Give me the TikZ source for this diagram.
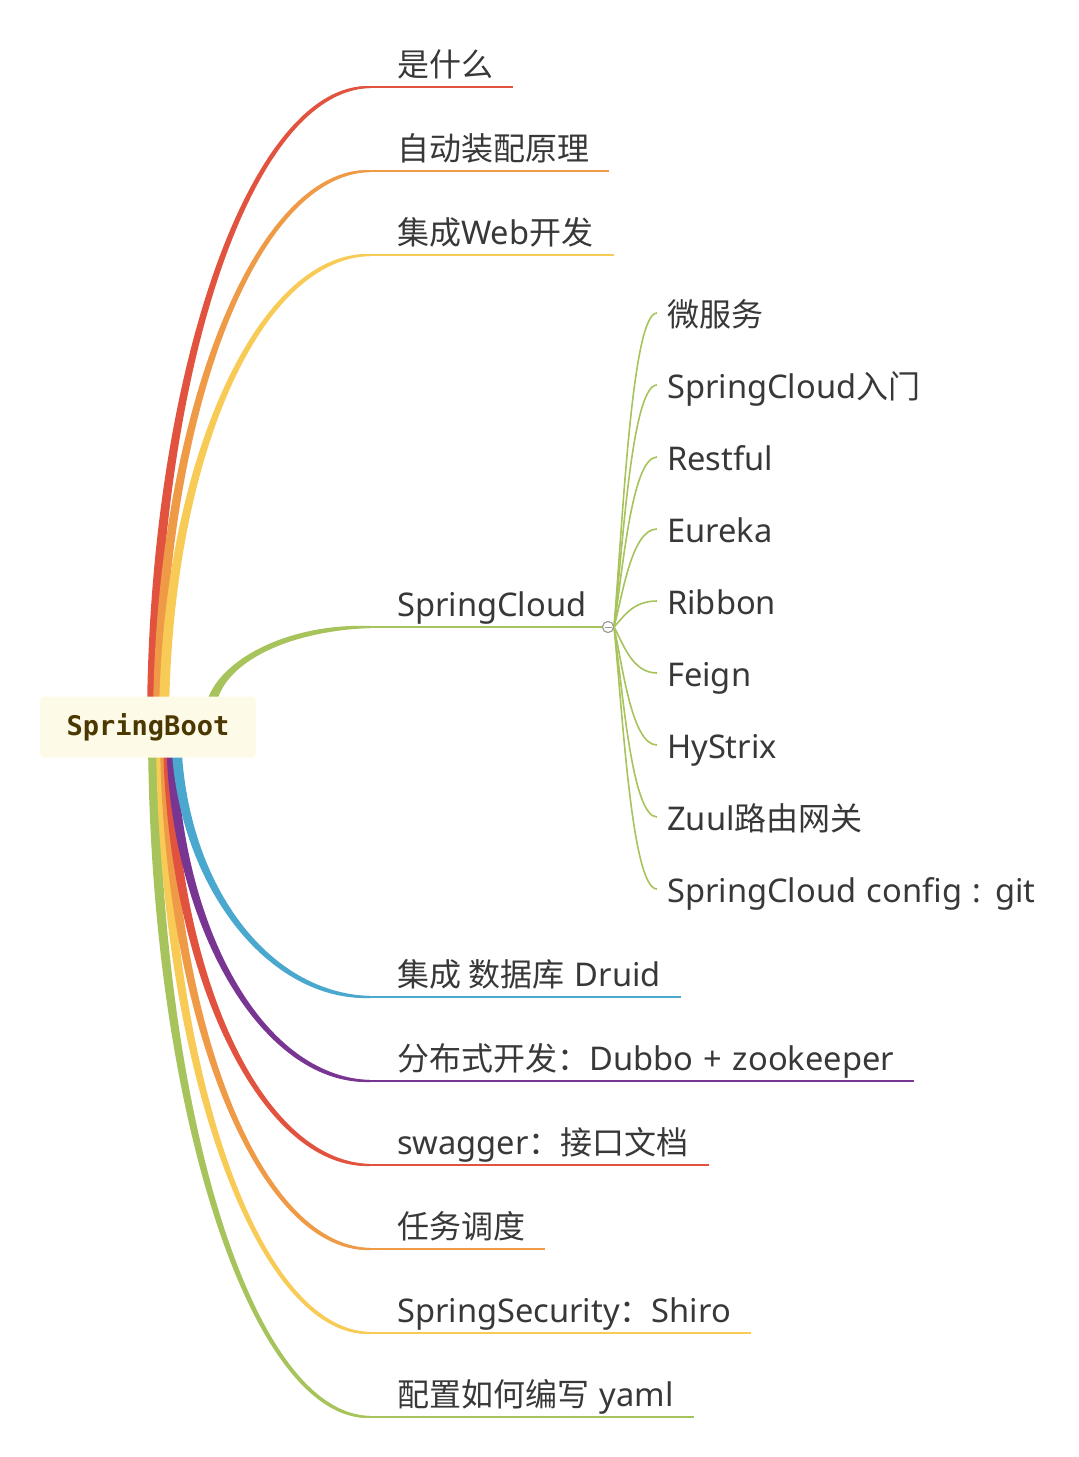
\documentclass[tikz,border=0pt]{standalone}
\usepackage{fontspec}
\setmainfont{Noto Sans}[Scale=1.02,WordSpace=1.25]
\newfontfamily\cjk{Noto Sans CJK SC}
\newfontfamily\hubfont{DejaVu Sans Mono}
\usetikzlibrary{calc,positioning,backgrounds}
\definecolor{cred}{HTML}{E2533F}
\definecolor{corange}{HTML}{EE9A46}
\definecolor{cyellow}{HTML}{F7CB55}
\definecolor{cgreen}{HTML}{A7C35B}
\definecolor{cblue}{HTML}{4AA8CF}
\definecolor{cpurple}{HTML}{783592}
\definecolor{ink}{HTML}{383838}
\definecolor{hubink}{HTML}{4A3800}
\definecolor{hubfill}{HTML}{FEFAE8}
\tikzset{
    %Define style for the central topic
    hub/.style={
           rectangle,
           rounded corners=4pt,
           fill=hubfill,
           minimum width=216pt,
           minimum height=61pt,
           text=hubink,
           font=\hubfont\bfseries\fontsize{27}{30}\selectfont},
    %Define style for branch labels
    topic/.style={
           anchor=base west,
           inner sep=0pt,
           text=ink,
           font=\fontsize{32}{38}\selectfont},
    leaf/.style={topic},
    % Define line styles
    twig/.style={line width=2pt},
    sprig/.style={cgreen, line width=1.6pt},
    knob/.style={
           circle,
           draw=black!40, fill=white,
           line width=1pt,
           minimum size=11pt,
           inner sep=0pt}
}
% tapered curve from the central topic to a branch
\newcommand\stem[3]{%
  \fill[#1] let \p1=(#2), \p2=(#3), \n1={sign(\y2-\y1)} in
    (\x1-5pt,\y1) .. controls (\x1-5pt,{\y1+0.55*(\y2-\y1)}) and ({\x1+0.45*(\x2-\x1)},{\y2+\n1*4.5pt}) .. (\x2,{\y2+\n1*1pt})
    -- (\x2,{\y2-\n1*1pt}) .. controls ({\x1+0.45*(\x2-\x1)},{\y2-\n1*4.5pt}) and (\x1+5pt,{\y1+0.55*(\y2-\y1)}) .. (\x1+5pt,\y1) -- cycle;
  \draw[#1, twig] let \p1=(#2), \p2=(#3) in
    (\p1) .. controls (\x1,{\y1+0.55*(\y2-\y1)}) and ({\x1+0.45*(\x2-\x1)},\y2) .. (\p2);}

\begin{document}
\begin{tikzpicture}[x=1pt,y=-1pt]
\useasboundingbox (0,0) rectangle (1079,1457);
\node[hub](root) at (148,727){SpringBoot};
% stem feet
\coordinate (s1) at ($(root.center)+(4,0)$);
\coordinate (s2) at ($(root.center)+(10,0)$);
\coordinate (s3) at ($(root.center)+(16,0)$);
\coordinate (s4) at ($(root.center)+(62,-12)$);
\coordinate (s5) at ($(root.center)+(28,0)$);
\coordinate (s6) at ($(root.center)+(23,0)$);
\coordinate (s7) at ($(root.center)+(20,0)$);
\coordinate (s8) at ($(root.center)+(17,0)$);
\coordinate (s9) at ($(root.center)+(13,0)$);
\coordinate (s10) at ($(root.center)+(5,0)$);
% branch ends
\coordinate (e1) at (370,87);
\coordinate (e2) at (370,171);
\coordinate (e3) at (370,255);
\coordinate (e4) at (370,627);
\coordinate (e5) at (370,997);
\coordinate (e6) at (370,1081);
\coordinate (e7) at (370,1165);
\coordinate (e8) at (370,1249);
\coordinate (e9) at (370,1333);
\coordinate (e10) at (370,1417);
% branch labels
\node[topic](t1) at (397,76){\cjk 是什么};
\node[topic](t2) at (397,160){\cjk 自动装配原理};
\node[topic](t3) at (397,244){{\cjk 集成}Web{\cjk 开发}};
\node[topic](t4) at (397,616){SpringCloud};
\node[topic](t5) at (397,986){{\cjk 集成 数据库} Druid};
\node[topic](t6) at (397,1070){{\cjk 分布式开发：}Dubbo + zookeeper};
\node[topic](t7) at (397,1154){swagger{\cjk ：接口文档}};
\node[topic](t8) at (397,1238){\cjk 任务调度};
\node[topic](t9) at (397,1322){SpringSecurity{\cjk ：}Shiro};
\node[topic](t10) at (397,1406){{\cjk 配置如何编写} yaml};
\begin{scope}[on background layer]
\stem{cred}{s1}{e1}
\stem{corange}{s2}{e2}
\stem{cyellow}{s3}{e3}
\stem{cgreen}{s4}{e4}
\stem{cgreen}{s10}{e10}
\stem{cyellow}{s9}{e9}
\stem{corange}{s8}{e8}
\stem{cred}{s7}{e7}
\stem{cpurple}{s6}{e6}
\stem{cblue}{s5}{e5}
\end{scope}
% underlines
\draw[twig,cred] (e1) -- ($(t1.east |- e1)+(20,0)$);
\draw[twig,corange] (e2) -- ($(t2.east |- e2)+(20,0)$);
\draw[twig,cyellow] (e3) -- ($(t3.east |- e3)+(20,0)$);
\draw[twig,cblue] (e5) -- ($(t5.east |- e5)+(20,0)$);
\draw[twig,cpurple] (e6) -- ($(t6.east |- e6)+(20,0)$);
\draw[twig,cred] (e7) -- ($(t7.east |- e7)+(20,0)$);
\draw[twig,corange] (e8) -- ($(t8.east |- e8)+(20,0)$);
\draw[twig,cyellow] (e9) -- ($(t9.east |- e9)+(20,0)$);
\draw[twig,cgreen] (e10) -- ($(t10.east |- e10)+(20,0)$);
% SpringCloud and its children
\node[knob](jn) at (608,627){};
\draw[twig,cgreen] (e4) -- (jn.west);
\coordinate (h1) at (657,313);
\coordinate (h2) at (657,385);
\coordinate (h3) at (657,457);
\coordinate (h4) at (657,529);
\coordinate (h5) at (657,601);
\coordinate (h6) at (657,673);
\coordinate (h7) at (657,745);
\coordinate (h8) at (657,817);
\coordinate (h9) at (657,889);
\node[leaf](c1) at (667,326){\cjk 微服务};
\node[leaf](c2) at (667,398){SpringCloud{\cjk 入门}};
\node[leaf](c3) at (667,470){Restful};
\node[leaf](c4) at (667,542){Eureka};
\node[leaf](c5) at (667,614){Ribbon};
\node[leaf](c6) at (667,686){Feign};
\node[leaf](c7) at (667,758){HyStrix};
\node[leaf](c8) at (667,830){Zuul{\cjk 路由网关}};
\node[leaf](c9) at (667,902){SpringCloud config : git};
\foreach \k in {1,...,9}
  \draw[sprig] let \p1=(jn.east), \p2=(h\k) in
    (\p1) .. controls (\x1+9pt,{\y1+0.35*(\y2-\y1)}) and (\x2-25pt,\y2) .. (\p2);
\node[knob] at (jn) {};
\draw[black!40, line width=1pt] ($(jn.center)+(-3.5,0)$) -- ($(jn.center)+(3.5,0)$);
\end{tikzpicture}
\end{document}
